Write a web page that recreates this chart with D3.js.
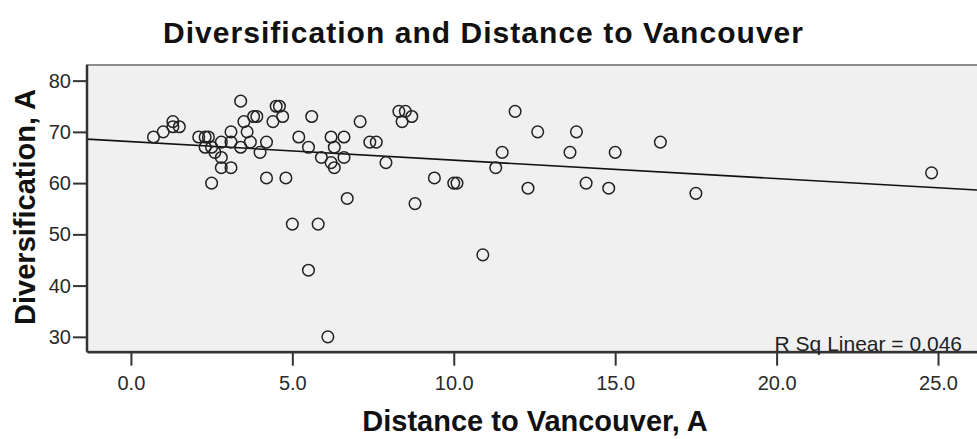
<!DOCTYPE html>
<html>
<head>
<meta charset="utf-8">
<script src="https://d3js.org/d3.v7.min.js"></script>
<style>
  body { margin: 0; background: #fff; }
  svg text { font-family: "Liberation Sans", Arial, sans-serif; }
</style>
</head>
<body>
<div id="chart"></div>
<script>
// data
const distance = [0.7, 1.0, 1.3, 1.3, 1.5, 2.1, 2.3, 2.4, 2.3, 2.5, 2.6, 2.8, 2.8, 2.8, 3.1, 2.5,
  3.1, 3.1, 3.4, 3.4, 3.5, 3.6, 3.7, 3.8, 3.9, 4.0, 4.2, 4.2, 4.4, 4.5, 4.6, 4.7, 4.8,
  5.2, 5.6, 5.5, 5.9, 6.2, 6.6, 6.3, 6.2, 6.3, 6.6, 7.4, 7.6, 7.9, 7.1, 6.7,
  8.3, 8.5, 8.4, 8.7, 9.4, 10.0, 10.1, 8.8, 11.3, 11.5, 11.9, 12.6, 13.8, 13.6, 15.0,
  16.4, 12.3, 14.1, 14.8, 17.5, 24.8, 5.0, 5.8, 5.5, 6.1, 10.9];
const diversification = [69, 70, 72, 71, 71, 69, 69, 69, 67, 67, 66, 68, 65, 63, 63, 60,
  70, 68, 67, 76, 72, 70, 68, 73, 73, 66, 68, 61, 72, 75, 75, 73, 61,
  69, 73, 67, 65, 69, 69, 67, 64, 63, 65, 68, 68, 64, 72, 57,
  74, 74, 72, 73, 61, 60, 60, 56, 63, 66, 74, 70, 70, 66, 66,
  68, 59, 60, 59, 58, 62, 52, 52, 43, 30, 46];
const xTicks = [0, 5, 10, 15, 20, 25];
const yTicks = [30, 40, 50, 60, 70, 80];
const rSqLabel = "R Sq Linear = 0.046";

const points = distance.map((d, i) => ({x: d, y: diversification[i]}));

// plot area edges
const W = 977, H = 439;
const plot = {left: 87, right: 980, top: 65, bottom: 351.7};

const svg = d3.select("#chart").append("svg")
    .attr("width", W).attr("height", H);

const x = d3.scaleLinear().domain([-1.36, 26.3]).range([plot.left, plot.right]);
const y = d3.scaleLinear().domain([27.1, 83.05]).range([plot.bottom, plot.top]);

// plot background + frame
svg.append("rect")
    .attr("x", plot.left).attr("y", plot.top)
    .attr("width", plot.right - plot.left).attr("height", plot.bottom - plot.top)
    .attr("fill", "#f0f0f0")
    .attr("stroke", "#8c8c8c").attr("stroke-width", 2);

// least squares fit
const mx = d3.mean(points, d => d.x), my = d3.mean(points, d => d.y);
const slope = d3.sum(points, d => (d.x - mx) * (d.y - my)) / d3.sum(points, d => (d.x - mx) ** 2);
const icpt = my - slope * mx;
const fitX = x.domain();

svg.append("line")
    .attr("x1", x(fitX[0])).attr("y1", y(icpt + slope * fitX[0]))
    .attr("x2", x(fitX[1])).attr("y2", y(icpt + slope * fitX[1]))
    .attr("stroke", "#111").attr("stroke-width", 1.6);

// points
svg.append("g")
  .selectAll("circle")
  .data(points)
  .join("circle")
    .attr("cx", d => x(d.x))
    .attr("cy", d => y(d.y))
    .attr("r", 5.8)
    .attr("fill", "none")
    .attr("stroke", "#222")
    .attr("stroke-width", 1.5);

// axes
const xAxis = svg.append("g")
    .attr("transform", `translate(0,${plot.bottom})`)
    .call(d3.axisBottom(x).tickValues(xTicks).tickFormat(d3.format(".1f"))
      .tickSizeInner(14).tickSizeOuter(0).tickPadding(10));
xAxis.select(".domain").attr("stroke", "#333").attr("stroke-width", 2.5);

const yAxis = svg.append("g")
    .attr("transform", `translate(${plot.left},0)`)
    .call(d3.axisLeft(y).tickValues(yTicks)
      .tickSizeInner(14).tickSizeOuter(0).tickPadding(2));
yAxis.select(".domain").attr("stroke", "#333").attr("stroke-width", 2.5)
    .attr("d", `M0,${plot.top}V${plot.bottom}`);

svg.selectAll(".tick line").attr("stroke", "#333").attr("stroke-width", 2);
svg.selectAll(".tick text")
    .attr("font-family", "'Liberation Sans', Arial, sans-serif")
    .attr("font-size", 20).attr("fill", "#2a2a2a");

// R square note
svg.append("text")
    .attr("x", 962).attr("y", plot.bottom - 1)
    .attr("text-anchor", "end")
    .attr("font-size", 21).attr("fill", "#222")
    .text(rSqLabel);

// titles
svg.append("text")
    .attr("x", 483).attr("y", 43)
    .attr("text-anchor", "middle")
    .attr("font-size", 30).attr("font-weight", "bold").attr("fill", "#111")
    .attr("textLength", 640).attr("lengthAdjust", "spacing")
    .text("Diversification and Distance to Vancouver");

svg.append("text")
    .attr("x", 535).attr("y", 431)
    .attr("text-anchor", "middle")
    .attr("font-size", 29).attr("font-weight", "bold").attr("fill", "#111")
    .text("Distance to Vancouver, A");

svg.append("text")
    .attr("transform", "translate(35,207) rotate(-90)")
    .attr("text-anchor", "middle")
    .attr("font-size", 29).attr("font-weight", "bold").attr("fill", "#111")
    .text("Diversification, A");
</script>
</body>
</html>
